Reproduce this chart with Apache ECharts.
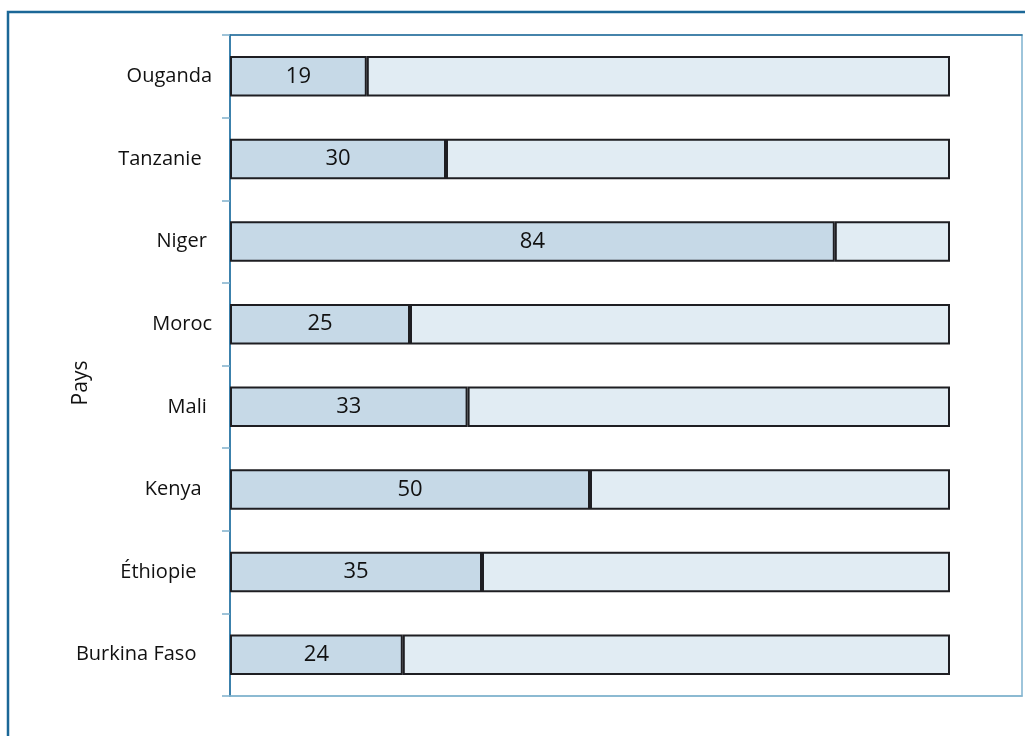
<!DOCTYPE html>
<html>
<head>
<meta charset="utf-8">
<script src="https://cdn.jsdelivr.net/npm/echarts@6/dist/echarts.min.js"></script>
<style>
html,body{margin:0;padding:0;background:#fff;}
#chart{width:1025px;height:736px;}
</style>
</head>
<body>
<div id="chart"></div>
<script>
var categories = ['Burkina Faso   ', 'Éthiopie   ', 'Kenya  ', 'Mali ', 'Moroc', 'Niger ', 'Tanzanie  ', 'Ouganda'];
var values = [24, 35, 50, 33, 25, 84, 30, 19];
var remaining = [76, 65, 50, 67, 75, 16, 70, 81];
var axisName = 'Pays';

var FONT = '"Open Sans", "Noto Sans", sans-serif';
var chart = echarts.init(document.getElementById('chart'), null, {renderer: 'canvas'});
chart.setOption({
  animation: false,
  backgroundColor: '#ffffff',
  grid: {left: 230, right: 3, top: 35, bottom: 40, containLabel: false,
         show: true, borderColor: '#7fb3cf', borderWidth: 1.5, backgroundColor: 'transparent'},
  graphic: [
    {type: 'rect', silent: true, z: 0,
     shape: {x: 8, y: 12, width: 1100, height: 800},
     style: {fill: 'none', stroke: '#1b6797', lineWidth: 2.5}},
    {type: 'text', silent: true, x: 81, y: 383, rotation: Math.PI / 2,
     style: {text: axisName, font: '21px ' + FONT, fill: '#111', textAlign: 'center', textVerticalAlign: 'middle'}}
  ],
  xAxis: [
    {type: 'value', min: 0, max: 110, position: 'bottom',
     axisLine: {show: true, lineStyle: {color: '#86b6cf', width: 1.5}},
     axisTick: {show: false}, axisLabel: {show: false}, splitLine: {show: false}},
    {type: 'value', min: 0, max: 110, position: 'top',
     axisLine: {show: true, lineStyle: {color: '#2a6f9c', width: 1.5}},
     axisTick: {show: false}, axisLabel: {show: false}, splitLine: {show: false}}
  ],
  yAxis: [
    {type: 'category', data: categories, position: 'left',
     axisLine: {show: true, lineStyle: {color: '#1b6a9c', width: 1.5}},
     axisTick: {show: true, length: 8, lineStyle: {color: '#7fb0cc', width: 1.5}},
     axisLabel: {color: '#111', fontSize: 20, fontFamily: FONT, margin: 18}}
  ],
  series: [
    {type: 'bar', stack: 'total', data: values, barWidth: '49%',
     itemStyle: {color: '#c6d9e7', borderColor: '#1e1e22', borderWidth: 2},
     label: {show: true, position: 'inside', color: '#111', fontSize: 22, fontFamily: FONT},
     emphasis: {disabled: true}},
    {type: 'bar', stack: 'total', data: remaining, barWidth: '49%',
     itemStyle: {color: '#e1ecf3', borderColor: '#1e1e22', borderWidth: 2},
     label: {show: false},
     emphasis: {disabled: true}}
  ]
});
</script>
</body>
</html>
